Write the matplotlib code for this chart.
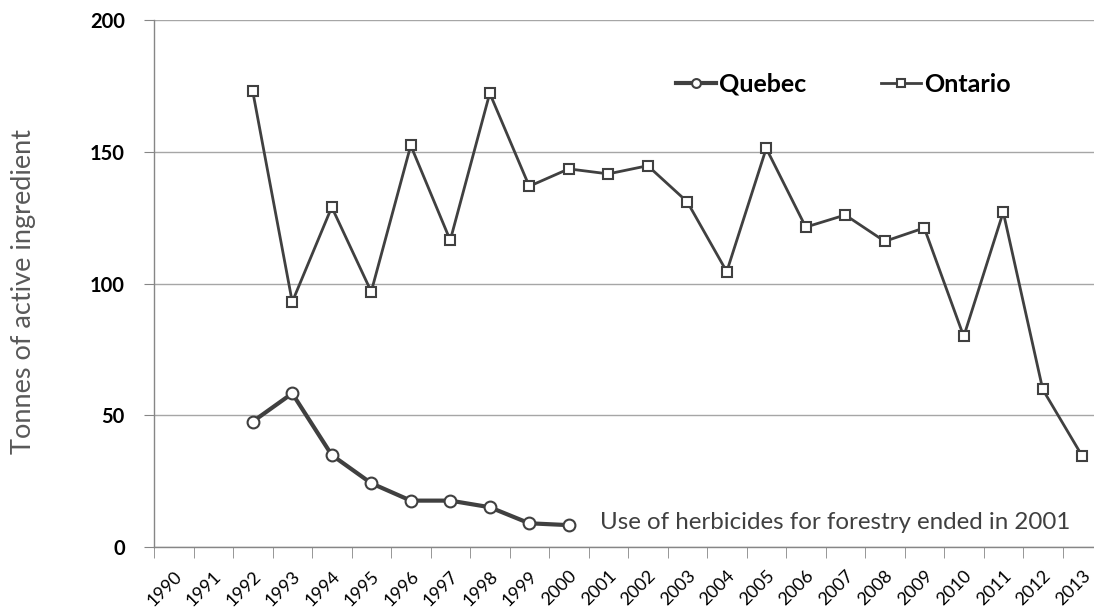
import matplotlib.pyplot as plt
import numpy as np
from matplotlib.ticker import FixedLocator

years = list(range(1990, 2014))
quebec_years = list(range(1992, 2001))
quebec = [47.6, 58.3, 34.9, 24.2, 17.6, 17.6, 15.1, 9.0, 8.3]
ontario_years = list(range(1992, 2014))
ontario = [172.9, 93.0, 129.0, 96.9, 152.4, 116.4, 172.2, 136.9, 143.5, 141.6, 144.7,
           131.0, 104.5, 151.3, 121.4, 126.0, 116.0, 121.1, 79.9, 127.1, 59.8, 34.5]
yticks = [0, 50, 100, 150, 200]
note = 'Use of herbicides for forestry ended in 2001'

plt.rcParams['font.family'] = ['Lato', 'DejaVu Sans']
W, H = 1094, 607
fig = plt.figure(figsize=(W/100, H/100), dpi=100)
# plot area runs a bit past the right edge, as in the original
ax = fig.add_axes([154/W, 1-547/H, (1102-154)/W, (547-20)/H])


def fit_width(t, target, vertical=False):
    # scale font so the text spans `target` pixels
    r = fig.canvas.get_renderer()
    bb = t.get_window_extent(r)
    cur = bb.height if vertical else bb.width
    t.set_fontsize(t.get_fontsize() * target / cur)


xq = [years.index(y) for y in quebec_years]
xo = [years.index(y) for y in ontario_years]
line_col = '#404040'
ax.plot(xq, quebec, color=line_col, lw=3.0, marker='o', markersize=8.5,
        markerfacecolor='white', markeredgecolor=line_col, markeredgewidth=1.5,
        label='Quebec', zorder=3)
ax.plot(xo, ontario, color=line_col, lw=2.0, marker='s', markersize=7,
        markerfacecolor='white', markeredgecolor=line_col, markeredgewidth=1.5,
        label='Ontario', zorder=3)

ax.set_xlim(-0.5, len(years)-0.5)
ax.set_ylim(0, 200)
ax.set_yticks(yticks, [str(v) for v in yticks], fontweight='bold', fontsize=14.5)
ax.grid(axis='y', color='#a6a6a6', lw=1)
ax.set_axisbelow(True)
for s in ['top', 'right']:
    ax.spines[s].set_visible(False)
for s in ['left', 'bottom']:
    ax.spines[s].set_color('#868686')
    ax.spines[s].set_linewidth(1)

ax.set_xticks(range(len(years)), [str(y) for y in years], rotation=45, ha='right',
              va='top', rotation_mode='anchor', fontsize=13, color='#000000')
ax.tick_params(axis='x', which='major', length=0, pad=15)
ax.xaxis.set_minor_locator(FixedLocator(np.arange(-0.5, len(years), 1)))
ax.tick_params(axis='x', which='minor', length=8, color='#868686')
ax.tick_params(axis='y', length=7, color='#868686', pad=14)

ylab = fig.text(24/W, 1-292/H, 'Tonnes of active ingredient', rotation=90,
                ha='center', va='center', fontsize=18, color='#595959')
fit_width(ylab, 325, vertical=True)
nt = ax.text(years.index(2000)+0.8, 9.2, note, fontsize=16, color='#404040',
             ha='left', va='center')
fit_width(nt, 474)

leg = ax.legend(loc='center left', bbox_to_anchor=(676/W, 1-84/H),
                bbox_transform=fig.transFigure, ncol=2, frameon=False,
                borderpad=0, borderaxespad=0,
                handlelength=1.6, handletextpad=0.12, columnspacing=3.0,
                markerscale=0.75, prop={'weight': 'bold', 'size': 18})

plt.savefig('out.png', dpi=100)
